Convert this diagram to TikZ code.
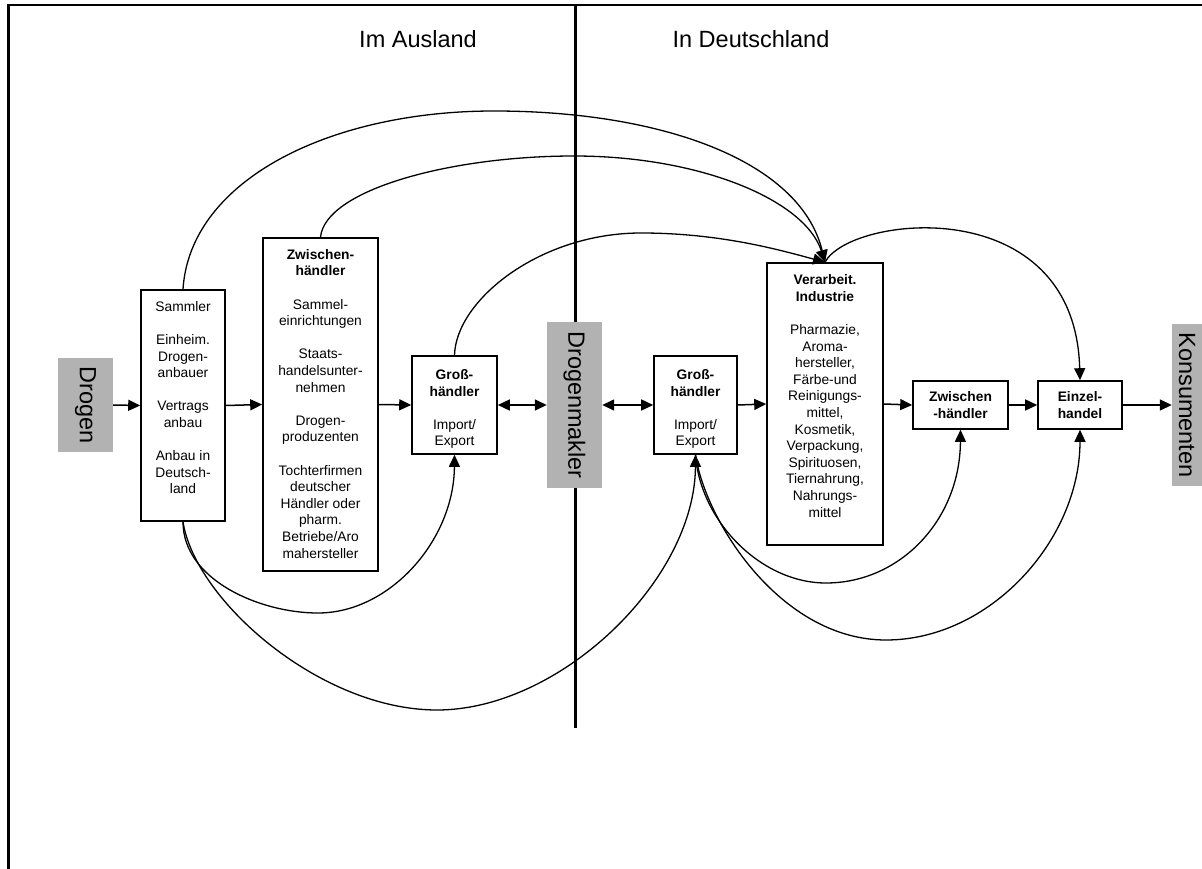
\documentclass[tikz,border=0pt]{standalone}
\usepackage{fontspec}
\setmainfont{Liberation Sans}
\usetikzlibrary{arrows.meta,calc}
\begin{document}
\begin{tikzpicture}[x=1pt,y=-1pt,
  box/.style={draw, line width=1.6pt, fill=white, inner sep=0pt},
  graybox/.style={fill=black!30, inner sep=0pt, rotate=-90, font=\fontsize{23.5}{26}\selectfont},
  txt/.style={align=center, font=\fontsize{13.8}{16.6}\selectfont, inner sep=0pt},
  header/.style={font=\fontsize{23.5}{26}\selectfont, inner sep=0pt, anchor=base},
  tipA/.tip={Triangle[length=12pt,width=11pt]},
  arr/.style={line width=1.5pt, -tipA},
  darr/.style={line width=1.5pt, tipA-tipA},
  curve/.style={line width=1.3pt},
  carr/.style={curve, -tipA}
]
\useasboundingbox (0,0) rectangle (1202,869);

% frame and divider
\coordinate (fbl) at (8.5,869);
\coordinate (ftl) at (8.5,5);
\coordinate (ftr) at (1202,5);
\draw[line width=2.5pt] (fbl) -- (ftl) -- (ftr);
\coordinate (dtop) at (575.5,5);
\coordinate (dbot) at (575.5,728);
\draw[line width=3pt] (dtop) -- (dbot);

% headers
\node[header] (hA) at (418,48) {Im Ausland};
\node[header] (hD) at (751,48) {In Deutschland};

% gray labels (rotated: north = right side, south = left side)
\node[graybox, minimum width=94pt, minimum height=55pt] (drogen) at (85.5,405) {Drogen};
\node[graybox, minimum width=166pt, minimum height=55pt] (makler) at (574.5,405) {Drogenmakler};
\node[graybox, minimum width=162pt, minimum height=30pt] (kons) at (1187,405) {Konsumenten};

% boxes
\node[box, minimum width=84pt, minimum height=231pt] (samm) at (183,405.5) {};
\node[txt, anchor=north] (sammT) at (183,301) {Sammler\\[16.6pt]Einheim.\\Drogen-\\anbauer\\[16.6pt]Vertrags\\anbau\\[16.6pt]Anbau in\\Deutsch-\\land};

\node[box, minimum width=115pt, minimum height=333pt] (zw1) at (320.5,404.5) {};
\node[txt, anchor=north] (zw1T) at (320.5,249) {\textbf{Zwischen-}\\\textbf{händler}\\[16.6pt]Sammel-\\einrichtungen\\[16.6pt]Staats-\\handelsunter-\\nehmen\\[16.6pt]Drogen-\\produzenten\\[16.6pt]Tochterfirmen\\deutscher\\Händler oder\\pharm.\\Betriebe/Aro\\mahersteller};

\node[box, minimum width=85pt, minimum height=98pt] (gh1) at (454.5,405) {};
\node[txt, anchor=north] (gh1T) at (454.5,369.5) {\textbf{Groß-}\\\textbf{händler}\\[16.3pt]Import/\\Export};

\node[box, minimum width=83pt, minimum height=98pt] (gh2) at (695.5,405) {};
\node[txt, anchor=north] (gh2T) at (695.5,369.5) {\textbf{Groß-}\\\textbf{händler}\\[16.3pt]Import/\\Export};

\node[box, minimum width=116pt, minimum height=282pt] (ind) at (825,404) {};
\node[txt, anchor=north] (indT) at (825,274.5) {\textbf{Verarbeit.}\\\textbf{Industrie}\\[16.6pt]Pharmazie,\\Aroma-\\hersteller,\\Färbe-und\\Reinigungs-\\mittel,\\Kosmetik,\\Verpackung,\\Spirituosen,\\Tiernahrung,\\Nahrungs-\\mittel};

\node[box, txt, minimum width=95pt, minimum height=48pt] (zw2) at (960.5,405) {\textbf{Zwischen}\\\textbf{-händler}};
\node[box, txt, minimum width=84pt, minimum height=48pt] (ez) at (1080,405) {\textbf{Einzel-}\\\textbf{handel}};

% straight arrows
\draw[arr] (drogen.north) -- (samm.west);
\draw[arr] (samm.east) -- (zw1.west);
\draw[arr] (zw1.east) -- (gh1.west);
\draw[darr] (gh1.east) -- (makler.south);
\draw[darr] (makler.north) -- (gh2.west);
\draw[arr] (gh2.east) -- (ind.west);
\draw[arr] (ind.east) -- (zw2.west);
\draw[arr] (zw2.east) -- (ez.west);
\draw[arr] (ez.east) -- (kons.south);

% curved connectors
\coordinate (pA) at (494,111);
\coordinate (pB) at (574,156);
\coordinate (pC) at (641,233);
\coordinate (pE) at (318,613);
\coordinate (pF) at (437,710);
\coordinate (pG) at (826,583);
\coordinate (pH) at (886,640);

\draw[carr] (samm.north) .. controls (190,180) and (330,111) .. (pA)
  .. controls (660,111) and (800,160) .. (ind.north);
\draw[carr] (zw1.north) .. controls (325,190) and (450,156) .. (pB)
  .. controls (700,156) and (805,200) .. (ind.north);
\draw[carr] (gh1.north) .. controls (456,300) and (540,233) .. (pC)
  .. controls (720,233) and (780,250) .. (ind.north);
\draw[carr] (ind.north) .. controls (850,215) and (1075,190) .. (ez.north);

\draw[carr] (samm.south) .. controls (183,580) and (260,613) .. (pE)
  .. controls (390,613) and (454,540) .. (gh1.south);
\draw[carr] (samm.south) .. controls (195,600) and (320,710) .. (pF)
  .. controls (560,710) and (695,580) .. (gh2.south);
\draw[carr] (gh2.south) .. controls (700,520) and (760,583) .. (pG)
  .. controls (900,583) and (960,520) .. (zw2.south);
\draw[carr] (gh2.south) .. controls (705,520) and (780,640) .. (pH)
  .. controls (990,640) and (1080,540) .. (ez.south);
\end{tikzpicture}
\end{document}
